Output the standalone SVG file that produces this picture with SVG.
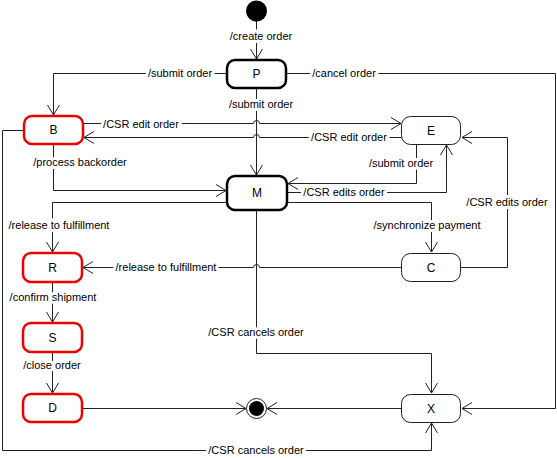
<svg xmlns="http://www.w3.org/2000/svg" width="557" height="458" viewBox="0 0 557 458">
<style>
.bg{fill:#fff}
.st rect{fill:#fff}
.thick rect{stroke:#000;stroke-width:2.5}
.red rect{stroke:#e00;stroke-width:2.5}
.thin rect{stroke:#222;stroke-width:1}
.nt{font-family:"Liberation Sans",Arial,sans-serif;font-size:12px;text-anchor:middle;fill:#000}
.c path{fill:none;stroke:#222;stroke-width:1}
.lbl{font-family:"Liberation Sans",Arial,sans-serif;font-size:11px;text-anchor:middle;fill:#000;stroke:#fff;stroke-width:6;stroke-linejoin:round;paint-order:stroke}
</style>
<defs>
<marker id="arr" markerUnits="userSpaceOnUse" markerWidth="14" markerHeight="14" refX="11" refY="7" orient="auto">
<path d="M1,1 L11,7 L1,13" fill="none" stroke="#222" stroke-width="1"/>
</marker>
</defs>
<rect class="bg" x="0" y="0" width="557" height="458"/>
<g id="connectors" class="c">
<path d="M256.5,21 V59" marker-end="url(#arr)"/>
<path d="M227,73.5 H53.5 V115" marker-end="url(#arr)"/>
<path d="M287,73.5 H555.5 V408.5 H462" marker-end="url(#arr)"/>
<path d="M256.5,88 V175" marker-end="url(#arr)"/>
<path d="M83,123.5 H253.5 A3,3 0 0 1 259.5,123.5 H401" marker-end="url(#arr)"/>
<path d="M401.5,137.5 H259.5 A3,3 0 0 0 253.5,137.5 H84" marker-end="url(#arr)"/>
<path d="M53.5,144 V190.5 H226" marker-end="url(#arr)"/>
<path d="M24,130.5 H2.5 V450.5 H431.5 V423" marker-end="url(#arr)"/>
<path d="M416.5,144 V183.5 H288" marker-end="url(#arr)"/>
<path d="M287,192.5 H446.5 V145" marker-end="url(#arr)"/>
<path d="M287,202.5 H431.5 V252" marker-end="url(#arr)"/>
<path d="M227,202.5 H52.5 V252" marker-end="url(#arr)"/>
<path d="M256.5,210 V353.5 H431.5 V393" marker-end="url(#arr)"/>
<path d="M401.5,267.5 H259.5 A3,3 0 0 0 253.5,267.5 H83" marker-end="url(#arr)"/>
<path d="M460.5,267.5 H507.5 V137.5 H462" marker-end="url(#arr)"/>
<path d="M52.5,282 V322" marker-end="url(#arr)"/>
<path d="M52.5,352 V393" marker-end="url(#arr)"/>
<path d="M82,408.5 H246" marker-end="url(#arr)"/>
<path d="M401.5,408.5 H267" marker-end="url(#arr)"/>
<text class="lbl" x="261" y="40">/create order</text>
<text class="lbl" x="180" y="76.5">/submit order</text>
<text class="lbl" x="344" y="76.5">/cancel order</text>
<text class="lbl" x="261" y="108">/submit order</text>
<text class="lbl" x="141" y="128">/CSR edit order</text>
<text class="lbl" x="349" y="141">/CSR edit order</text>
<text class="lbl" x="80" y="166">/process backorder</text>
<text class="lbl" x="401" y="167">/submit order</text>
<text class="lbl" x="344" y="196">/CSR edits order</text>
<text class="lbl" x="507" y="206">/CSR edits order</text>
<text class="lbl" x="59" y="229">/release to fulfillment</text>
<text class="lbl" x="427" y="229">/synchronize payment</text>
<text class="lbl" x="166" y="271">/release to fulfillment</text>
<text class="lbl" x="53" y="301">/confirm shipment</text>
<text class="lbl" x="52" y="369">/close order</text>
<text class="lbl" x="256" y="336">/CSR cancels order</text>
<text class="lbl" x="256" y="454">/CSR cancels order</text>
</g>
<g id="initial"><circle cx="256.5" cy="11" r="10.5" fill="#000"/></g>
<g id="final"><circle cx="256.5" cy="408.5" r="10" fill="#fff" stroke="#222" stroke-width="1"/><circle cx="256.5" cy="408.5" r="7.5" fill="#000"/></g>
<g id="P" class="st thick"><rect x="227" y="60" width="59" height="28" rx="8"/><text class="nt" x="256.5" y="78">P</text></g>
<g id="M" class="st thick"><rect x="227" y="176" width="60" height="34" rx="8"/><text class="nt" x="257" y="197">M</text></g>
<g id="B" class="st red"><rect x="24" y="116" width="59" height="28" rx="8"/><text class="nt" x="53.5" y="134">B</text></g>
<g id="E" class="st thin"><rect x="401.5" y="116.5" width="59" height="28" rx="9"/><text class="nt" x="431" y="134.5">E</text></g>
<g id="C" class="st thin"><rect x="401.5" y="253.5" width="59" height="28" rx="9"/><text class="nt" x="431" y="271.5">C</text></g>
<g id="X" class="st thin"><rect x="401.5" y="394.5" width="59" height="28" rx="9"/><text class="nt" x="431" y="412.5">X</text></g>
<g id="R" class="st red"><rect x="23" y="253" width="59" height="29" rx="8"/><text class="nt" x="52.5" y="271.5">R</text></g>
<g id="S" class="st red"><rect x="23" y="323" width="59" height="29" rx="8"/><text class="nt" x="52.5" y="341.5">S</text></g>
<g id="D" class="st red"><rect x="23" y="394" width="59" height="28" rx="8"/><text class="nt" x="52.5" y="412">D</text></g>
</svg>
